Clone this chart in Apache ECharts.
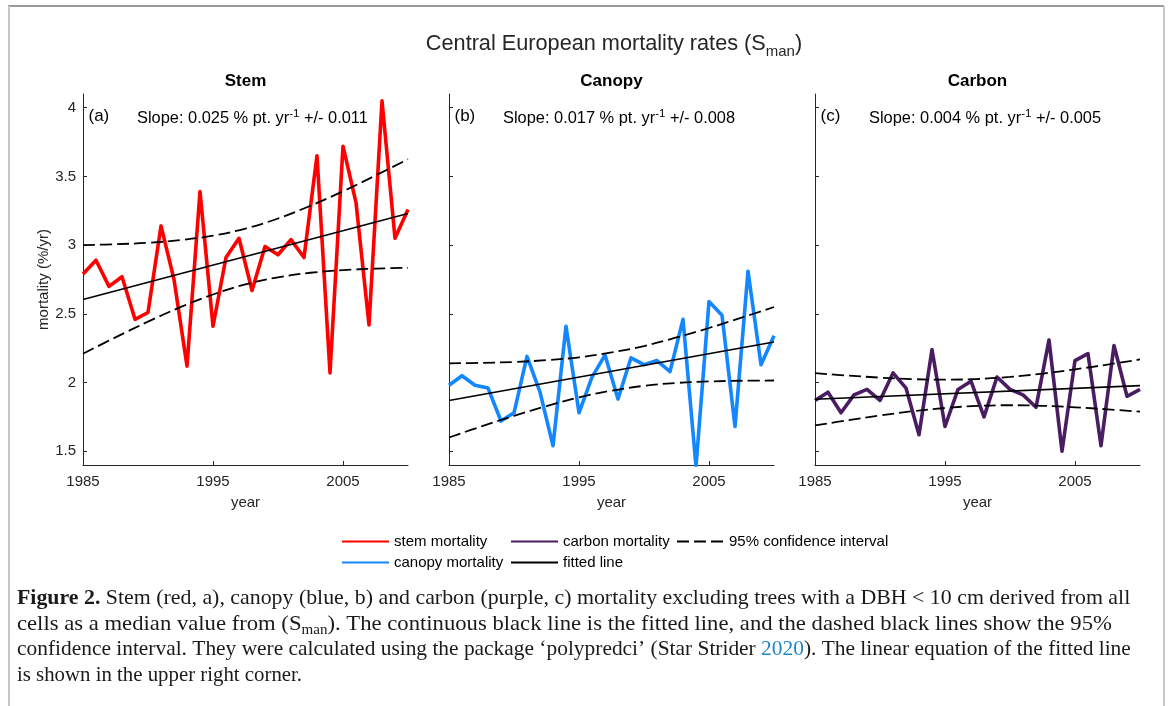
<!DOCTYPE html>
<html>
<head>
<meta charset="utf-8">
<title>Central European mortality rates</title>
<script src="https://cdn.jsdelivr.net/npm/echarts@6/dist/echarts.min.js"></script>
<style>
  html, body { margin: 0; padding: 0; background: #ffffff; }
  #chart { width: 1168px; height: 706px; }
</style>
</head>
<body>
<div id="chart"></div>
<script>
// ---- data -------------------------------------------------------------
const years = [1985, 1986, 1987, 1988, 1989, 1990, 1991, 1992, 1993, 1994, 1995, 1996, 1997,
               1998, 1999, 2000, 2001, 2002, 2003, 2004, 2005, 2006, 2007, 2008, 2009, 2010];

const stemMortality   = [2.79, 2.89, 2.70, 2.77, 2.46, 2.51, 3.14, 2.75, 2.12, 3.39, 2.41, 2.91, 3.05,
                         2.67, 2.99, 2.93, 3.04, 2.91, 3.65, 2.07, 3.72, 3.31, 2.42, 4.05, 3.05, 3.26];
const canopyMortality = [1.98, 2.05, 1.98, 1.96, 1.72, 1.78, 2.19, 1.93, 1.54, 2.41, 1.78, 2.04, 2.20,
                         1.88, 2.18, 2.13, 2.16, 2.08, 2.46, 1.39, 2.59, 2.49, 1.68, 2.81, 2.13, 2.34];
const carbonMortality = [1.87, 1.93, 1.78, 1.91, 1.95, 1.87, 2.07, 1.96, 1.62, 2.24, 1.68, 1.95, 2.01,
                         1.75, 2.04, 1.95, 1.91, 1.82, 2.31, 1.50, 2.16, 2.21, 1.54, 2.27, 1.90, 1.95];

// fitted lines (end points)
const fitYears  = [1985, 2010];
const stemFit   = [2.605, 3.230];
const canopyFit = [1.870, 2.295];
const carbonFit = [1.878, 1.978];

// 95% confidence bands
const ciYears     = [1985, 1987.5, 1990, 1992.5, 1995, 1997.5, 2000, 2002.5, 2005, 2007.5, 2010];
const stemUpper   = [3.000, 3.007, 3.017, 3.037, 3.069, 3.121, 3.194, 3.287, 3.392, 3.507, 3.625];
const stemLower   = [2.210, 2.329, 2.443, 2.549, 2.641, 2.715, 2.766, 2.799, 2.818, 2.829, 2.835];
const canopyUpper = [2.140, 2.143, 2.150, 2.163, 2.184, 2.219, 2.266, 2.328, 2.397, 2.472, 2.550];
const canopyLower = [1.600, 1.681, 1.758, 1.829, 1.892, 1.941, 1.976, 1.997, 2.008, 2.013, 2.015];
const carbonUpper = [2.068, 2.051, 2.036, 2.025, 2.021, 2.026, 2.041, 2.065, 2.096, 2.131, 2.168];
const carbonLower = [1.688, 1.725, 1.760, 1.791, 1.815, 1.830, 1.835, 1.831, 1.820, 1.805, 1.788];

// axis ticks and panel text
const yearTicks      = [1985, 1995, 2005];
const mortalityTicks = [1.5, 2, 2.5, 3, 3.5, 4];
const panelTitles    = ['Stem', 'Canopy', 'Carbon'];
const panelTags      = ['(a)', '(b)', '(c)'];
const slopeValues    = ['0.025', '0.017', '0.004'];
const slopeErrors    = ['0.011', '0.008', '0.005'];
const seriesNames    = ['stem mortality', 'canopy mortality', 'carbon mortality'];
const seriesColors   = ['#ff0000', '#1387ff', '#4a1d63'];

// ---- layout -----------------------------------------------------------
const FONT = 'Liberation Sans, Arial, Helvetica, sans-serif';
const SERIF = 'Liberation Serif, Times New Roman, serif';
const AXIS_COLOR = '#262626';
const panelLeft = [83, 449, 815];
const panelTop = 94, panelWidth = 325, panelHeight = 371;

const valueSets = [stemMortality, canopyMortality, carbonMortality];
const fitSets = [stemFit, canopyFit, carbonFit];
const upperSets = [stemUpper, canopyUpper, carbonUpper];
const lowerSets = [stemLower, canopyLower, carbonLower];

const pairs = (xs, ys) => xs.map((x, i) => [x, ys[i]]);

const grids = [], xAxes = [], yAxes = [], series = [];
for (let i = 0; i < 3; i++) {
  grids.push({ left: panelLeft[i], top: panelTop, width: panelWidth, height: panelHeight, containLabel: false });
  xAxes.push({
    type: 'value', gridIndex: i, min: 1985, max: 2010,
    axisLine: { show: true, lineStyle: { color: AXIS_COLOR, width: 1 } },
    axisTick: { show: true, inside: true, length: 4, customValues: yearTicks,
                lineStyle: { color: AXIS_COLOR, width: 1 } },
    axisLabel: { customValues: yearTicks, margin: 9, fontSize: 15, color: AXIS_COLOR,
                 fontFamily: FONT, formatter: v => String(v) },
    splitLine: { show: false },
    name: 'year', nameLocation: 'middle', nameGap: 30,
    nameTextStyle: { fontSize: 15, color: AXIS_COLOR, fontFamily: FONT }
  });
  yAxes.push({
    type: 'value', gridIndex: i, min: 1.4, max: 4.1,
    axisLine: { show: true, lineStyle: { color: AXIS_COLOR, width: 1 } },
    axisTick: { show: true, inside: true, length: 4, customValues: mortalityTicks,
                lineStyle: { color: AXIS_COLOR, width: 1 } },
    axisLabel: { show: i === 0, customValues: mortalityTicks, margin: 7, fontSize: 15,
                 color: AXIS_COLOR, fontFamily: FONT, formatter: v => String(v) },
    splitLine: { show: false },
    name: i === 0 ? 'mortality (%/yr)' : '',
    nameLocation: 'middle', nameGap: 28, nameRotate: 90,
    nameTextStyle: { fontSize: 15, color: AXIS_COLOR, fontFamily: FONT }
  });

  series.push({
    name: seriesNames[i], type: 'line', xAxisIndex: i, yAxisIndex: i,
    data: pairs(years, valueSets[i]), symbol: 'none', clip: true,
    lineStyle: { color: seriesColors[i], width: 3.6, join: 'round' },
    itemStyle: { color: seriesColors[i] }, z: 2, animation: false
  });
  series.push({
    name: 'fitted line', type: 'line', xAxisIndex: i, yAxisIndex: i,
    data: pairs(fitYears, fitSets[i]), symbol: 'none', clip: true,
    lineStyle: { color: '#000000', width: 1.6 }, itemStyle: { color: '#000000' },
    z: 3, animation: false
  });
  [upperSets[i], lowerSets[i]].forEach(band => {
    series.push({
      name: '95% confidence interval', type: 'line', xAxisIndex: i, yAxisIndex: i,
      data: pairs(ciYears, band), symbol: 'none', smooth: 0.4, clip: true,
      lineStyle: { color: '#000000', width: 1.8, type: [12, 5] }, itemStyle: { color: '#000000' },
      z: 3, animation: false
    });
  });
}

// ---- legend -----------------------------------------------------------
const legendBase = {
  orient: 'horizontal', padding: 0, itemWidth: 47, itemHeight: 14, selectedMode: false,
  itemStyle: { color: 'rgba(0,0,0,0)', borderColor: 'rgba(0,0,0,0)', borderWidth: 0 },
  textStyle: { fontSize: 15, color: '#000000', fontFamily: FONT }
};
const legendRow = [534, 555];
const legendCol = [341, 510, 676];
const legends = [
  { data: ['stem mortality'], left: legendCol[0], top: legendRow[0] },
  { data: ['canopy mortality'], left: legendCol[0], top: legendRow[1] },
  { data: ['carbon mortality'], left: legendCol[1], top: legendRow[0] },
  { data: ['fitted line'], left: legendCol[1], top: legendRow[1] },
  { data: ['95% confidence interval'], left: legendCol[2], top: legendRow[0] }
].map(l => Object.assign({}, legendBase, l));

// ---- text and frame ---------------------------------------------------
const graphics = [];
// page frame
graphics.push({ type: 'line', shape: { x1: 8, y1: 6, x2: 1164, y2: 6 }, style: { stroke: '#9a9a9a', lineWidth: 2 }, silent: true });
graphics.push({ type: 'line', shape: { x1: 9, y1: 6, x2: 9, y2: 706 }, style: { stroke: '#c8c8c8', lineWidth: 2 }, silent: true });
graphics.push({ type: 'line', shape: { x1: 1164, y1: 6, x2: 1164, y2: 706 }, style: { stroke: '#c8c8c8', lineWidth: 2 }, silent: true });

// figure title with subscript
graphics.push({
  type: 'text', x: 614, y: 44, silent: true,
  style: {
    text: '{a|Central European mortality rates (S}{s|man}{a|)}',
    align: 'center', verticalAlign: 'middle', fill: AXIS_COLOR,
    rich: {
      a: { fontSize: 21.7, lineHeight: 26, fontFamily: FONT, fill: AXIS_COLOR },
      s: { fontSize: 15, lineHeight: 15, fontFamily: FONT, fill: AXIS_COLOR,
           verticalAlign: 'top', padding: [13.5, 0, 0, 0] }
    }
  }
});

for (let i = 0; i < 3; i++) {
  const x0 = panelLeft[i];
  graphics.push({
    type: 'text', x: x0 + panelWidth / 2, y: 81, silent: true,
    style: { text: panelTitles[i], align: 'center', verticalAlign: 'middle',
             font: 'bold 17px ' + FONT, fill: '#000000' }
  });
  graphics.push({
    type: 'text', x: x0 + 5.5, y: 116, silent: true,
    style: { text: panelTags[i], align: 'left', verticalAlign: 'middle',
             font: '17px ' + FONT, fill: '#000000' }
  });
  graphics.push({
    type: 'text', x: x0 + 54, y: 118, silent: true,
    style: {
      text: '{a|Slope: ' + slopeValues[i] + ' % pt. yr}{p|-1}{a| +/- ' + slopeErrors[i] + '}',
      align: 'left', verticalAlign: 'middle',
      rich: {
        a: { fontSize: 16.4, lineHeight: 20, fontFamily: FONT, fill: '#000000' },
        p: { fontSize: 11.5, lineHeight: 12, fontFamily: FONT, fill: '#000000', verticalAlign: 'top' }
      }
    }
  });
}

// caption
const CAP = 21.8;
const capRich = {
  n: { fontSize: CAP, lineHeight: 25, fontFamily: SERIF, fill: '#1a1a1a' },
  b: { fontSize: CAP, lineHeight: 25, fontFamily: SERIF, fill: '#1a1a1a', fontWeight: 'bold' },
  s: { fontSize: 14.5, lineHeight: 14, fontFamily: SERIF, fill: '#1a1a1a', verticalAlign: 'top', padding: [11.5, 0, 0, 0] },
  l: { fontSize: CAP, lineHeight: 25, fontFamily: SERIF, fill: '#1f86c8' }
};
const captionLines = [
  '{b|Figure 2.}{n| Stem (red, a), canopy (blue, b) and carbon (purple, c) mortality excluding trees with a DBH < 10 cm derived from all}',
  '{n|cells as a median value from (S}{s|man}{n|). The continuous black line is the fitted line, and the dashed black lines show the 95%}',
  '{n|confidence interval. They were calculated using the package \u2018polypredci\u2019 (Star Strider }{l|2020}{n|). The linear equation of the fitted line}',
  '{n|is shown in the upper right corner.}'
];
const captionY = [598, 624, 649, 675];
// horizontal set width of each caption line
const captionStretch = [1.003, 1.04, 0.982, 0.955];
captionLines.forEach((t, k) => {
  graphics.push({
    type: 'text', x: 17, y: captionY[k], scaleX: captionStretch[k], silent: true,
    style: { text: t, align: 'left', verticalAlign: 'middle', rich: capRich }
  });
});

const chart = echarts.init(document.getElementById('chart'), null, { renderer: 'canvas' });
chart.setOption({
  backgroundColor: '#ffffff',
  animation: false,
  grid: grids,
  xAxis: xAxes,
  yAxis: yAxes,
  legend: legends,
  series: series,
  graphic: graphics
});
</script>
</body>
</html>
